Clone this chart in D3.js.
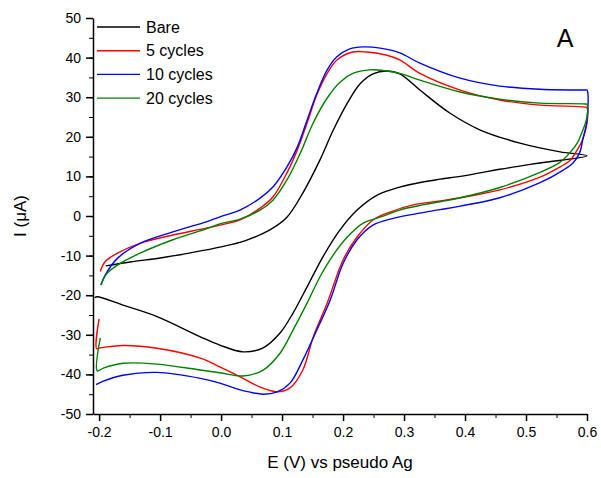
<!DOCTYPE html>
<html>
<head>
<meta charset="utf-8">
<script src="https://cdn.jsdelivr.net/npm/d3@7"></script>
<style>
  body { margin: 0; background: #fff; }
  text { font-family: Arial, "Liberation Sans", sans-serif; fill: #000; }
</style>
</head>
<body>
<script>
const width = 601;
const height = 478;

// series names and colours
const seriesNames = ['Bare', '5 cycles', '10 cycles', '20 cycles'];
const seriesColors = ['#000000', '#ff0000', '#0000ff', '#008000'];

// each CV as [E (V), I (uA)], forward scan then reverse scan
const bareCV = [
  [-0.189, -12.6], [-0.149, -11.6], [-0.1, -10.6], [-0.05, -9.3], [0, -7.8], [0.04, -6.2],
  [0.08, -3.5], [0.108, -0.3], [0.134, 5.8], [0.162, 14.1], [0.184, 21.7], [0.207, 28.5],
  [0.228, 33.4], [0.249, 35.9], [0.272, 36.6], [0.293, 35.9], [0.326, 31.8], [0.375, 26],
  [0.425, 21.7], [0.49, 18.4], [0.556, 16.2], [0.6, 15.2],
  [0.523, 13.4], [0.457, 11.8], [0.4, 10.2], [0.359, 9.3], [0.331, 8.6], [0.293, 7.3],
  [0.256, 5.3], [0.223, 1.5], [0.195, -3.5], [0.167, -10.3], [0.141, -17.9], [0.118, -24.5],
  [0.097, -29.5], [0.069, -33.3], [0.036, -34.3], [-0.002, -32.6], [-0.034, -30.5],
  [-0.105, -25.4], [-0.161, -22.5], [-0.203, -20.4], [-0.207, -20.6]
];
const cycles5CV = [
  [-0.198, -14], [-0.19, -11.5], [-0.17, -9.4], [-0.133, -6.9], [-0.079, -4.8], [-0.023, -3],
  [0.031, -1], [0.064, 2], [0.085, 4.8], [0.108, 10.9], [0.125, 16.7], [0.141, 23.5],
  [0.157, 30.6], [0.174, 36], [0.19, 39.4], [0.216, 41.4], [0.239, 41.4], [0.272, 40.6],
  [0.293, 39.4], [0.326, 36], [0.392, 31.8], [0.457, 29.3], [0.523, 28], [0.597, 27.5],
  [0.6, 27.3], [0.6, 23.5], [0.592, 19], [0.584, 16.7], [0.572, 14], [0.556, 12.4],
  [0.523, 9.8], [0.457, 6.6], [0.392, 4.6], [0.359, 3.8], [0.315, 2.8], [0.277, 1],
  [0.249, -1], [0.223, -5.3], [0.2, -11.1], [0.174, -22], [0.151, -30.6], [0.134, -38.9],
  [0.113, -43.4], [0.092, -44.4], [0.064, -43.2], [0.031, -40.6], [-0.002, -38.1],
  [-0.034, -35.9], [-0.105, -33.4], [-0.161, -32.7], [-0.198, -33.3], [-0.204, -33.5], [-0.2, -26]
];
const cycles10CV = [
  [-0.197, -17.4], [-0.19, -14.9], [-0.17, -10.7], [-0.133, -6.9], [-0.079, -4], [-0.023, -1.4],
  [-0.002, -0.2], [0.031, 1.5], [0.064, 4.5], [0.085, 7.3], [0.108, 12.4], [0.125, 17.4],
  [0.141, 24.2], [0.157, 31], [0.174, 36.9], [0.19, 40.2], [0.211, 42.2], [0.233, 42.7],
  [0.261, 42.4], [0.293, 41.2], [0.326, 38.6], [0.392, 34.8], [0.457, 32.8], [0.523, 32],
  [0.597, 31.8], [0.6, 31.8], [0.6, 24.2], [0.593, 19.2], [0.588, 16], [0.577, 13.4],
  [0.561, 11.6], [0.523, 8.4], [0.457, 4.6], [0.392, 2.5], [0.359, 1.6], [0.321, 0.6],
  [0.282, -0.6], [0.249, -2.3], [0.223, -6], [0.2, -12], [0.179, -21.2], [0.157, -28.8],
  [0.134, -36.4], [0.113, -42.2], [0.092, -44.4], [0.069, -45], [0.031, -43.9],
  [-0.002, -42.2], [-0.034, -41], [-0.105, -39.5], [-0.161, -40.2], [-0.193, -41.7], [-0.205, -42.6]
];
const cycles20CV = [
  [-0.197, -17.4], [-0.187, -14.5], [-0.17, -12.4], [-0.133, -9.4], [-0.079, -6], [-0.023, -3.2],
  [-0.002, -2], [0.031, -0.8], [0.064, 1.5], [0.085, 4], [0.108, 9.1], [0.13, 15.9],
  [0.151, 23.5], [0.174, 29.8], [0.195, 33.8], [0.216, 36], [0.244, 36.9], [0.272, 36.6],
  [0.293, 36], [0.326, 34.3], [0.392, 31.3], [0.457, 29.5], [0.523, 28.5], [0.597, 28.3],
  [0.6, 28.2], [0.6, 25], [0.592, 21.2], [0.584, 18.4], [0.572, 16], [0.556, 13.6],
  [0.523, 11], [0.457, 7.2], [0.392, 4.6], [0.359, 3.6], [0.331, 2.8], [0.293, 1.5],
  [0.261, -0.3], [0.233, -1.8], [0.207, -5.3], [0.184, -9.8], [0.162, -15.4], [0.141, -22],
  [0.118, -28.8], [0.097, -34.6], [0.069, -38.9], [0.036, -40.4], [-0.002, -39.6],
  [-0.034, -38.9], [-0.105, -37.4], [-0.161, -37.2], [-0.193, -38.4], [-0.203, -39.1], [-0.198, -30.8]
];
const allCV = [bareCV, cycles5CV, cycles10CV, cycles20CV];

// tick labels
const xTicks = [-0.2, -0.1, 0.0, 0.1, 0.2, 0.3, 0.4, 0.5, 0.6];
const yTicks = [-50, -40, -30, -20, -10, 0, 10, 20, 30, 40, 50];

let svg;
const x = d3.scaleLinear().domain([-0.21, 0.6]).range([93, 587]);
const y = d3.scaleLinear().domain([-50, 50]).range([414, 18]);

render();

function render(){
  svg = d3.select('body')
    .append('svg')
    .attr('width', width)
    .attr('height', height);

  renderAxes();
  renderCurves();
  renderLegend();
}

function renderAxes(){
  const xMinor = d3.range(-0.2, 0.6001, 0.05);
  const yMinor = d3.range(-50, 50.001, 5);

  // minor ticks first, majors over them
  svg.append('g')
    .attr('transform', `translate(0, ${y(-50)})`)
    .call(d3.axisBottom(x).tickValues(xMinor).tickSize(4).tickFormat(''))
    .call(g => g.select('.domain').remove());
  svg.append('g')
    .attr('transform', `translate(${x(-0.21)}, 0)`)
    .call(d3.axisLeft(y).tickValues(yMinor).tickSize(4).tickFormat(''))
    .call(g => g.select('.domain').remove());

  const gx = svg.append('g')
    .attr('transform', `translate(0, ${y(-50)})`)
    .call(d3.axisBottom(x).tickValues(xTicks).tickSize(7).tickSizeOuter(0).tickPadding(6)
      .tickFormat(d3.format('.1f')));
  const gy = svg.append('g')
    .attr('transform', `translate(${x(-0.21)}, 0)`)
    .call(d3.axisLeft(y).tickValues(yTicks).tickSize(7).tickSizeOuter(0).tickPadding(5));

  [gx, gy].forEach(g => {
    g.selectAll('text').style('font-size', '14px').attr('font-family', null);
    g.selectAll('line, path').attr('stroke-width', 1.5);
  });
  gx.selectAll('text').text(d => d3.format('.1f')(d).replace('−', '-'));
  gy.selectAll('text').text(d => String(d));
  svg.selectAll('.tick line').attr('stroke', '#000');

  svg.append('text')
    .attr('x', 340)
    .attr('y', 468)
    .attr('text-anchor', 'middle')
    .style('font-size', '17px')
    .text('E (V) vs pseudo Ag');

  svg.append('text')
    .attr('transform', 'translate(26, 216) rotate(-90)')
    .attr('text-anchor', 'middle')
    .style('font-size', '17px')
    .text('I (μA)');

  svg.append('text')
    .attr('x', 565)
    .attr('y', 47)
    .attr('text-anchor', 'middle')
    .style('font-size', '25px')
    .text('A');
}

function renderCurves(){
  const line = d3.line()
    .x(d => x(d[0]))
    .y(d => y(d[1]))
    .curve(d3.curveCatmullRom.alpha(0.5));

  svg.append('g')
    .attr('class', 'curves')
    .selectAll('path')
    .data(allCV)
    .join('path')
    .attr('d', line)
    .attr('fill', 'none')
    .attr('stroke', (d, i) => seriesColors[i])
    .attr('stroke-width', 1.4);
}

function renderLegend(){
  const g = svg.append('g').attr('class', 'legend');
  const items = g.selectAll('g')
    .data(seriesNames)
    .join('g')
    .attr('transform', (d, i) => `translate(97, ${27 + i * 23.7})`);

  items.append('line')
    .attr('x1', 0).attr('x2', 43)
    .attr('stroke', (d, i) => seriesColors[i])
    .attr('stroke-width', 1.4);

  items.append('text')
    .attr('x', 49)
    .attr('dy', '0.35em')
    .style('font-size', '16px')
    .text(d => d);
}
</script>
</body>
</html>
